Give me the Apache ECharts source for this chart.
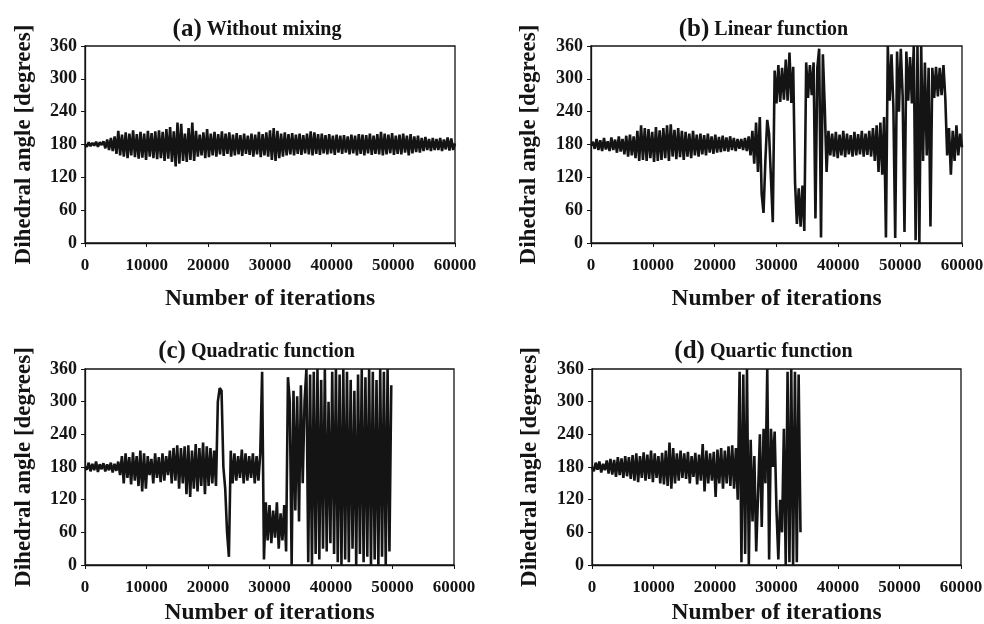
<!DOCTYPE html>
<html>
 <head>
  <title>Dihedral angle vs iterations</title>
  <script src="https://cdn.jsdelivr.net/npm/echarts@6/dist/echarts.min.js"></script>
  <style>
    html, body, #container {
    width: 100%;
    height: 100%;
    margin: 0;
    padding: 0;
    background: #fff;
    }
  </style>
 </head>
  <body>
    <div id="container"></div>
    <script>
// one value every STEP iterations
var STEP = 300;

var yTicks = [0, 60, 120, 180, 240, 300, 360];
var xTicks = [0, 10000, 20000, 30000, 40000, 50000, 60000];

var panelTags = ['(a)', '(b)', '(c)', '(d)'];
var panelNames = ['Without mixing', 'Linear function', 'Quadratic function', 'Quartic function'];

var withoutMixing = [
  180,176,184,177,183,178,185,176,184,179,
  186,173,189,170,192,168,195,163,205,160,
  198,158,202,155,200,160,206,157,199,154,
  203,156,200,152,205,158,201,155,204,153,
  206,155,203,150,208,154,212,148,204,140,
  220,145,218,150,200,148,210,152,220,150,
  205,158,198,160,202,155,208,157,200,160,
  203,158,199,162,204,159,200,163,202,158,
  198,160,201,162,197,159,200,163,196,161,
  200,158,198,162,203,157,199,160,202,158,
  206,152,210,150,205,155,200,158,202,160,
  199,162,201,160,198,163,200,161,197,164,
  200,162,204,160,202,163,199,161,200,164,
  197,162,199,164,196,161,198,165,196,163,
  197,165,195,162,198,164,196,160,199,163,
  198,160,197,164,200,161,196,163,199,162,
  203,160,200,162,198,164,201,161,196,163,
  198,162,200,165,196,160,199,164,195,166,
  196,165,192,168,194,170,190,168,192,170,
  190,170,192,168,189,171,193,169,191,170,
  182
];

var linearFn = [
  178,185,172,190,170,188,168,192,171,186,
  168,193,170,189,165,195,167,190,162,196,
  158,198,160,195,155,205,150,215,152,210,
  150,208,155,203,148,212,150,206,152,210,
  155,215,150,217,158,207,153,210,157,205,
  152,203,158,200,155,205,160,198,158,200,
  162,197,160,200,165,195,163,198,165,194,
  166,196,168,193,167,195,170,192,168,190,
  172,190,170,192,168,195,160,205,145,220,
  130,230,90,55,150,225,200,120,38,315,
  255,325,258,320,262,335,260,348,256,322,
  110,35,100,30,105,22,330,265,325,270,
  330,45,320,355,10,345,250,130,205,160,
  200,158,203,155,198,160,205,157,200,162,
  197,158,203,160,199,162,205,158,200,161,
  205,158,210,150,215,130,220,125,230,10,
  360,260,345,250,9,350,240,355,270,20,
  350,260,340,255,360,5,360,0,360,150,
  330,160,320,30,320,265,322,268,320,270,
  325,265,160,210,125,205,150,215,160,200,
  175
];

var quadraticFn = [
  180,175,188,172,186,174,190,171,185,176,
  187,172,185,174,188,170,186,173,190,165,
  200,150,205,160,198,148,207,155,200,145,
  210,135,205,140,200,165,195,150,205,160,
  198,152,205,155,200,165,210,150,215,155,
  220,140,215,150,218,130,220,125,210,140,
  222,135,215,145,225,130,218,145,215,150,
  210,145,300,325,320,180,140,60,15,210,
  150,205,155,200,160,212,150,205,155,200,
  160,205,150,200,155,205,355,10,115,45,
  110,40,100,50,115,30,95,45,110,25,
  345,300,0,320,100,310,80,330,150,300,
  360,5,350,0,355,20,360,10,340,30,
  360,25,300,40,355,20,360,5,350,0,
  360,10,355,5,340,30,320,0,350,20,
  360,5,345,15,360,0,355,10,340,0,
  360,15,355,0,360,25,330
];

var quarticFn = [
  180,172,188,175,190,170,186,174,192,168,
  195,166,193,162,198,165,196,160,200,163,
  198,158,202,155,205,152,200,160,207,155,
  203,158,210,152,205,160,200,150,206,148,
  210,145,225,140,215,150,205,155,210,160,
  205,158,208,150,200,162,206,148,203,155,
  222,135,210,150,205,155,208,125,212,150,
  215,140,210,150,218,145,220,140,215,120,
  355,5,350,20,360,0,230,80,200,25,
  130,240,70,250,150,360,10,250,180,245,
  100,10,120,60,250,0,355,5,360,0,
  355,5,350,60
];

var panelData = [withoutMixing, linearFn, quadraticFn, quarticFn];

var grids = [
  {left: 85, top: 46, width: 370, height: 197},
  {left: 591, top: 46, width: 371, height: 197},
  {left: 85, top: 369, width: 369, height: 196},
  {left: 592, top: 369, width: 369, height: 196}
];

var serifFont = '"Liberation Serif", "DejaVu Serif", serif';
var ink = '#141414';

var chartDom = document.getElementById('container');
var myChart = echarts.init(chartDom);

var option = {
  animation: false,
  title: [],
  grid: [],
  xAxis: [],
  yAxis: [],
  series: []
};

for (var i = 0; i < 4; i++) {
  var g = grids[i];
  var topRow = i < 2;
  option.title.push({
    text: '{p|' + panelTags[i] + '} {t|' + panelNames[i] + '}',
    left: g.left + g.width / 2 - 18,
    top: topRow ? 5 : 327,
    textAlign: 'center',
    textStyle: {
      rich: {
        p: {fontFamily: serifFont, fontWeight: 'bold', fontSize: 25, color: ink},
        t: {fontFamily: serifFont, fontWeight: 'bold', fontSize: 20, color: ink}
      }
    }
  });
  option.grid.push({
    left: g.left, top: g.top, width: g.width, height: g.height,
    outerBoundsMode: 'none',
    show: true, borderColor: ink, borderWidth: 1.3, backgroundColor: '#fff'
  });
  option.xAxis.push({
    type: 'value', gridIndex: i,
    min: xTicks[0], max: xTicks[xTicks.length - 1], interval: xTicks[1] - xTicks[0],
    name: 'Number of iterations', nameLocation: 'middle',
    nameGap: topRow ? 37 : 29, nameMoveOverlap: false,
    nameTextStyle: {fontFamily: serifFont, fontWeight: 'bold', fontSize: 23.5, color: ink},
    axisLine: {lineStyle: {color: ink, width: 1.3}},
    axisTick: {inside: false, length: 4, lineStyle: {color: ink}},
    axisLabel: {
      fontFamily: serifFont, fontWeight: 'bold', fontSize: 17, color: ink, margin: 9,
      formatter: function (v) { return String(v); }
    },
    splitLine: {show: false}
  });
  option.yAxis.push({
    type: 'value', gridIndex: i,
    min: yTicks[0], max: yTicks[yTicks.length - 1], interval: yTicks[1] - yTicks[0],
    name: 'Dihedral angle [degrees]', nameLocation: 'middle',
    nameGap: i % 2 ? 44 : 43, nameMoveOverlap: false,
    nameTextStyle: {fontFamily: serifFont, fontWeight: 'bold', fontSize: 23, color: ink},
    axisLine: {lineStyle: {color: ink, width: 1.3}},
    axisTick: {inside: false, length: 4, lineStyle: {color: ink}},
    axisLabel: {fontFamily: serifFont, fontWeight: 'bold', fontSize: 18, color: ink, margin: 8},
    splitLine: {show: false}
  });
  option.series.push({
    type: 'line', xAxisIndex: i, yAxisIndex: i,
    showSymbol: false, sampling: null,
    lineStyle: {color: ink, width: 2.6},
    data: panelData[i].map(function (v, k) { return [k * STEP, v]; })
  });
}

option && myChart.setOption(option);
    </script>
  </body>
</html>
